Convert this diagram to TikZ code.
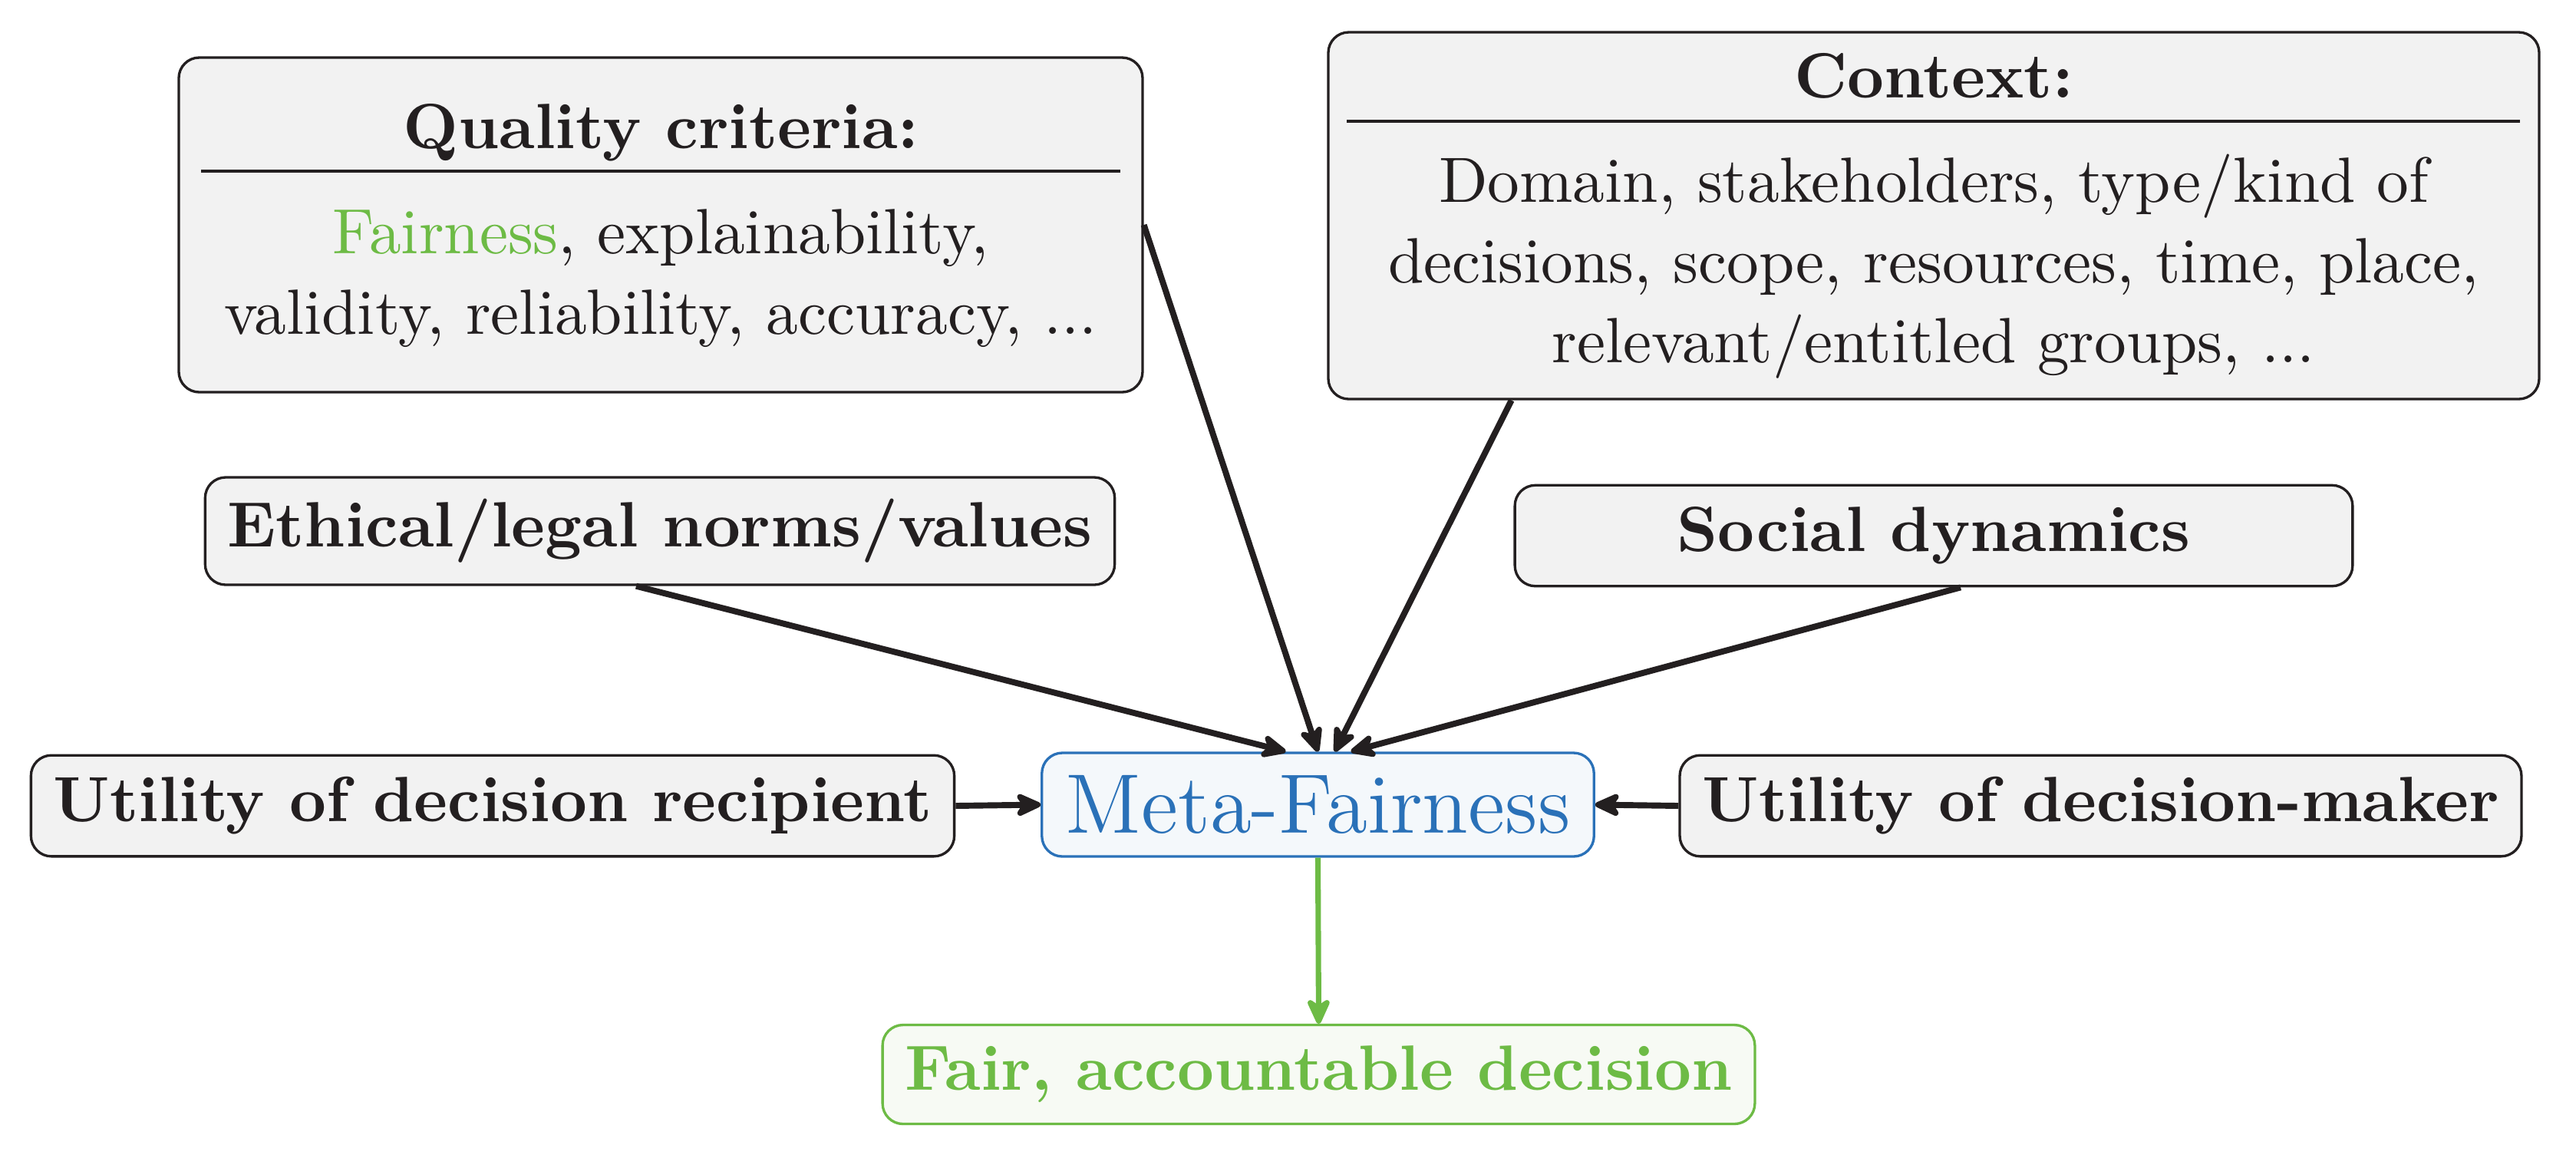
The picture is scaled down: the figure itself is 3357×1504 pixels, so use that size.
\documentclass[tikz,border=0pt]{standalone}
\usetikzlibrary{arrows.meta,calc,fit}
\definecolor{ink}{HTML}{231F20}
\definecolor{boxgray}{HTML}{F2F2F2}
\definecolor{mblue}{HTML}{2A71B8}
\definecolor{mbluefill}{HTML}{F4F8FB}
\definecolor{mgreen}{HTML}{6DBB45}
\definecolor{mgreenfill}{HTML}{F7FAF4}
\begin{document}
\begin{tikzpicture}[x=0.12pt,y=-0.12pt,
  every node/.style={text=ink},
  gbox/.style={draw=ink, fill=boxgray, rounded corners=3.2pt, line width=0.4pt},
  bigbox/.style={gbox, inner sep=0pt},
  lbl/.style={gbox, font=\fontsize{10}{12.6}\selectfont\bfseries, inner xsep=3.5pt, inner ysep=3.4pt},
  ttl/.style={anchor=base, font=\fontsize{10}{12.6}\selectfont\bfseries, inner sep=0pt},
  txt/.style={anchor=base, font=\fontsize{10}{12.6}\selectfont, inner sep=0pt},
  sep/.style={draw=ink, line width=0.45pt},
  tip/.style={-{Stealth[length=5pt,width=4.5pt,inset=1.5pt,round]}},
  arr/.style={draw=ink, line width=0.95pt, tip},
  garr/.style={draw=mgreen, line width=0.85pt, tip}
]
\useasboundingbox (0,0) rectangle (3357,1504);

% Quality criteria box
\node[bigbox, fit={(233,75) (1489,511)}] (qc) {};
\node[ttl] (qct) at (861,193) {Quality criteria:};
\draw[sep] (262,223) -- (1460,223);
\node[txt] (qcl1) at (861,330) {\textcolor{mgreen}{Fairness}, explainability,};
\node[txt] (qcl2) at (861,435) {validity, reliability, accuracy, ...};

% Context box
\node[bigbox, fit={(1731,42) (3309,520)}] (ctx) {};
\node[ttl] (ctxt) at (2520,127) {Context:};
\draw[sep] (1755,158) -- (3284,158);
\node[txt] (ctxl1) at (2520,263) {Domain, stakeholders, type/kind of};
\node[txt] (ctxl2) at (2520,368) {decisions, scope, resources, time, place,};
\node[txt] (ctxl3) at (2520,472) {relevant/entitled groups, ...};

% Middle boxes
\node[lbl] (eth) at (860,692) {Ethical/legal norms/values};
\node[lbl, minimum width=131pt] (soc) at (2520,698) {Social dynamics};

% Row
\node[lbl] (urec) at (642,1050) {Utility of decision recipient};
\node[draw=mblue, fill=mbluefill, rounded corners=3.2pt, line width=0.4pt,
      text=mblue, font=\fontsize{13.2}{15}\selectfont, inner xsep=3.7pt,
      minimum height=16.2pt] (meta) at (1717.5,1048.5) {Meta-Fairness};
\node[lbl] (umak) at (2737.5,1050) {Utility of decision-maker};

% Result
\node[draw=mgreen, fill=mgreenfill, rounded corners=3.2pt, line width=0.4pt,
      text=mgreen, font=\fontsize{10}{12.6}\selectfont\bfseries,
      inner xsep=3.5pt, inner ysep=3.3pt] (fair) at (1718.5,1400) {Fair, accountable decision};

% Arrows
\draw[arr] ($(eth.south)+(-31,0)$) -- ($(meta.north)+(-42,0)$);
\draw[arr] (qc.east) -- (meta.north);
\draw[arr] ($(ctx.south west)!0.152!(ctx.south east)$) -- ($(meta.north)+(22,0)$);
\draw[arr] ($(soc.south)+(35,0)$) -- ($(meta.north)+(43,0)$);
\draw[arr] (urec.east) -- (meta.west);
\draw[arr] (umak.west) -- (meta.east);
\draw[garr] (meta.south) -- (fair.north);
\end{tikzpicture}
\end{document}
